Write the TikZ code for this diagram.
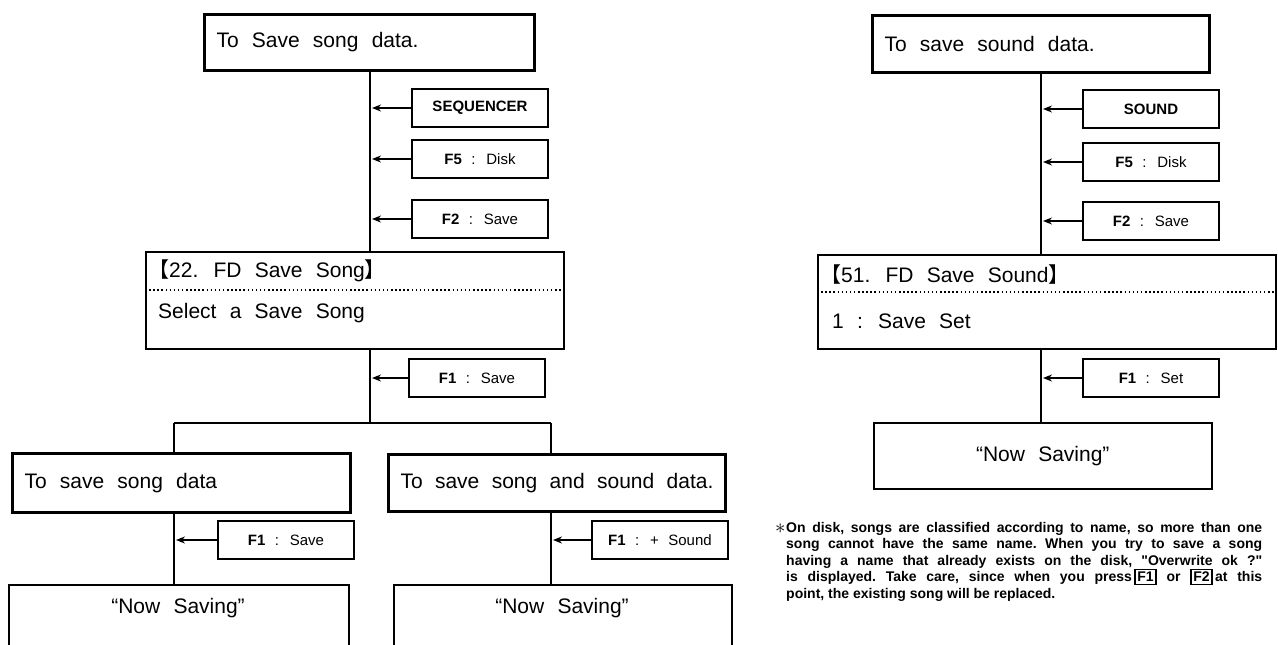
\documentclass[tikz,border=0pt]{standalone}
\usepackage{fontspec}
\setmainfont{Liberation Sans}
\newfontfamily\cjkfont{Noto Sans CJK JP}
\usetikzlibrary{arrows.meta}
\newcommand{\widesp}{\spaceskip=.63em plus .1em minus .05em\relax}
\newcommand{\keycap}[1]{{\setlength{\fboxsep}{1.8pt}\setlength{\fboxrule}{1.3pt}\fbox{#1}}}
\newcommand{\lbr}{{\cjkfont 【}}
\newcommand{\rbr}{{\cjkfont 】}}
\tikzset{
	titlebox/.style={draw,line width=3pt,anchor=north west,inner xsep=12pt,inner ysep=0pt,align=left,
		font=\fontsize{21}{25}\selectfont,execute at begin node=\widesp},
	keybox/.style={draw,line width=2pt,anchor=north west,minimum width=136pt,minimum height=38pt,inner sep=0pt,
		font=\fontsize{15}{18}\selectfont,execute at begin node=\widesp},
	screenbox/.style={draw,line width=1.8pt,anchor=north west,inner sep=0pt},
	outbox/.style={draw,line width=1.5pt,anchor=north west,inner sep=0pt},
	plain/.style={inner sep=0pt,font=\fontsize{21}{25}\selectfont,execute at begin node=\widesp},
	wire/.style={line width=1.5pt},
	keyarrow/.style={line width=1.5pt,-{Stealth[length=9pt,width=7pt]},shorten >=2pt},
	dotline/.style={line width=1.5pt,dash pattern=on 1.5pt off 2.6pt},
	note/.style={inner sep=0pt,anchor=north west,align=left,font=\fontsize{14}{16.5}\selectfont\bfseries,
		execute at begin node=\frenchspacing}
}
\begin{document}
\begin{tikzpicture}[x=1pt,y=-1pt]
	\useasboundingbox (0,0) rectangle (1278,645);
	\fill[white] (0,0) rectangle (1278,645);
	\coordinate (spL) at (370,0);
	\coordinate (spR) at (1041,0);
	\coordinate (brA) at (174,0);
	\coordinate (brB) at (551,0);
	\coordinate (fork) at (370,423);
	% song side
	\node[titlebox,minimum width=330pt,minimum height=56pt,text width=306pt] (saveSong) at (203,13) {To Save song data.};
	\node[keybox] (kSeq) at (411,88) {\textbf{SEQUENCER}};
	\node[keybox] (kDiskL) at (411,139) {\textbf{F5} : Disk};
	\node[keybox] (kSaveL) at (411,199) {\textbf{F2} : Save};
	\node[screenbox,minimum width=418pt,minimum height=97pt] (scrSong) at (145,251) {};
	\node[plain,anchor=west] (scrSongHead) at (148,271) {\lbr 22. FD Save Song\rbr};
	\node[plain,anchor=west] (scrSongSel) at (158,313) {Select a Save Song};
	\node[keybox] (kF1L) at (408,358) {\textbf{F1} : Save};
	\node[titlebox,minimum width=338pt,minimum height=59pt,text width=314pt] (songOnly) at (11,452) {To save song data};
	\node[titlebox,minimum width=337pt,minimum height=57pt,text width=313pt] (songPlus) at (387,453) {To save song and sound data.};
	\node[keybox] (kF1a) at (217,520) {\textbf{F1} : Save};
	\node[keybox] (kF1b) at (591,520) {\textbf{F1} : + Sound};
	\node[outbox,minimum width=340pt,minimum height=120pt] (outA) at (8,584) {};
	\node[plain] (outAtxt) at (178,608) {“Now Saving”};
	\node[outbox,minimum width=338pt,minimum height=120pt] (outB) at (393,584) {};
	\node[plain] (outBtxt) at (562,608) {“Now Saving”};
	% sound side
	\node[titlebox,minimum width=337pt,minimum height=57pt,text width=313pt] (saveSound) at (871,14) {To save sound data.};
	\node[keybox] (kSnd) at (1082,89) {\textbf{SOUND}};
	\node[keybox] (kDiskR) at (1082,142) {\textbf{F5} : Disk};
	\node[keybox] (kSaveR) at (1082,201) {\textbf{F2} : Save};
	\node[screenbox,minimum width=458pt,minimum height=94pt] (scrSound) at (817,254) {};
	\node[plain,anchor=west] (scrSoundHead) at (820,275) {\lbr 51. FD Save Sound\rbr};
	\node[plain,anchor=west] (scrSoundSel) at (832,321) {1 : Save Set};
	\node[keybox] (kSet) at (1082,358) {\textbf{F1} : Set};
	\node[outbox,minimum width=338pt,minimum height=66pt,font=\fontsize{21}{25}\selectfont,execute at begin node=\widesp] (outC) at (873,422) {“Now Saving”};
	% flow lines
	\draw[wire] (saveSong.south -| spL) -- (scrSong.north -| spL);
	\draw[wire] (scrSong.south -| spL) -- (fork);
	\draw[wire] (fork -| brA) -- (fork -| brB);
	\draw[wire] (fork -| brA) -- (songOnly.north -| brA);
	\draw[wire] (fork -| brB) -- (songPlus.north -| brB);
	\draw[wire] (songOnly.south -| brA) -- (outA.north -| brA);
	\draw[wire] (songPlus.south -| brB) -- (outB.north -| brB);
	\draw[wire] (saveSound.south -| spR) -- (scrSound.north -| spR);
	\draw[wire] (scrSound.south -| spR) -- (outC.north -| spR);
	\foreach \k in {kSeq,kDiskL,kSaveL,kF1L}
		\draw[keyarrow] (\k.west) -- (\k.west -| spL);
	\foreach \k in {kSnd,kDiskR,kSaveR,kSet}
		\draw[keyarrow] (\k.west) -- (\k.west -| spR);
	\draw[keyarrow] (kF1a.west) -- (kF1a.west -| brA);
	\draw[keyarrow] (kF1b.west) -- (kF1b.west -| brB);
	\draw[dotline] ([yshift=-39pt]scrSong.north west) -- ([yshift=-39pt]scrSong.north east);
	\draw[dotline] ([yshift=-38pt]scrSound.north west) -- ([yshift=-38pt]scrSound.north east);
	% remark
	\node[note] (remark) at (775,522) {%
		\makebox[11pt][l]{\raisebox{-1pt}{\fontsize{20}{20}\selectfont$\ast$}}\makebox[476pt][s]{On disk, songs are classified according to name, so more than one}\\
		\hspace*{11pt}\makebox[476pt][s]{song cannot have the same name. When you try to save a song}\\
		\hspace*{11pt}\makebox[476pt][s]{having a name that already exists on the disk, \textquotedbl Overwrite ok ?\textquotedbl}\\
		\hspace*{11pt}\makebox[476pt][s]{is displayed. Take care, since when you press\,\keycap{F1} or \keycap{F2}\,at this}\\
		\hspace*{11pt}point, the existing song will be replaced.};
\end{tikzpicture}
\end{document}
